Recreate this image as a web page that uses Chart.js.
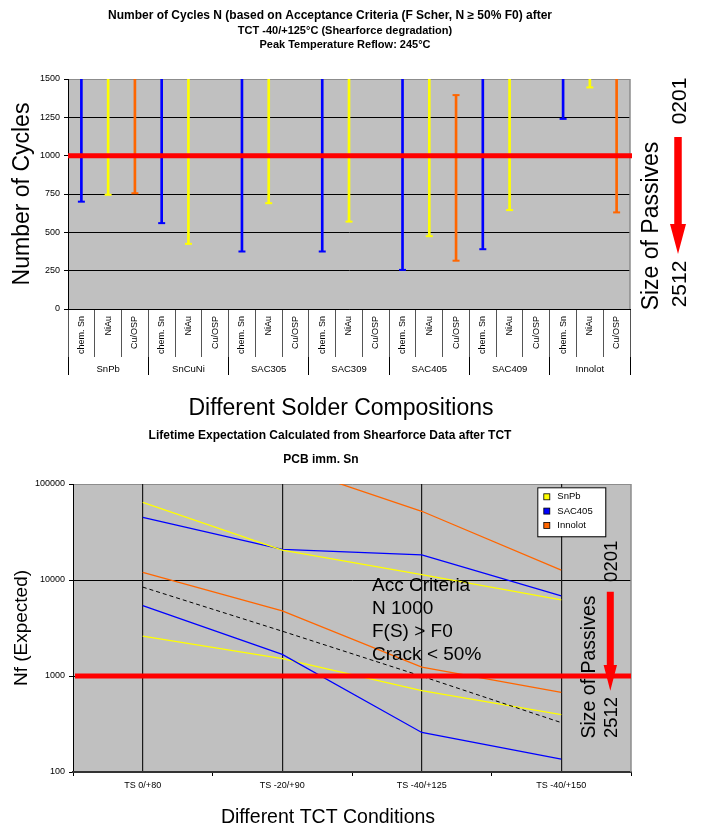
<!DOCTYPE html>
<html>
<head>
<meta charset="utf-8">
<title>Shearforce lifetime</title>
<script src="https://cdn.jsdelivr.net/npm/chart.js@4/dist/chart.umd.min.js"></script>
<style>
  html, body { margin: 0; padding: 0; background: #fff; }
  #wrap { position: relative; width: 703px; height: 831px; }
  #cyclesChart { position: absolute; left: 0; top: 0; }
  #lifeChart { position: absolute; left: 0; top: 428px; }
</style>
</head>
<body>
<div id="wrap">
  <canvas id="cyclesChart" width="703" height="428"></canvas>
  <canvas id="lifeChart" width="703" height="403"></canvas>
</div>
<script>
// --- cycles to acceptance limit, TCT -40/+125 ---
const alloys = ['SnPb', 'SnCuNi', 'SAC305', 'SAC309', 'SAC405', 'SAC409', 'Innolot'];
const finishes = ['chem. Sn', 'NiAu', 'Cu/OSP'];
const finishColors = ['#0000ff', '#ffff00', '#ff6600'];
// lower end of each range, alloy by alloy (null = no data)
const cyclesLow = [700, 745, 755, 560, 425, null, 375, 690, null, 375, 570, null, 255, 475, 315, 390, 645, null, 1240, 1445, 630];
// upper end, 1500 = runs past the top of the axis
const cyclesHigh = [1500, 1500, 1500, 1500, 1500, null, 1500, 1500, null, 1500, 1500, null, 1500, 1500, 1395, 1500, 1500, null, 1500, 1500, 1500];
const cyclesTicks = [0, 250, 500, 750, 1000, 1250, 1500];
const acceptLimit = 1000;

// --- lifetime expectation from shearforce data ---
const tctConditions = ['TS 0/+80', 'TS -20/+90', 'TS -40/+125', 'TS -40/+150'];
const snpbHigh = [64400, 20500, 11400, 6200];
const snpbLow = [2600, 1520, 705, 395];
const sac405High = [45000, 20800, 18300, 6850];
const sac405Low = [5400, 1680, 258, 136];
const innolotHigh = [null, 160000, 52000, 12700];
const innolotLow = [12000, 4770, 1235, 675];
const accCriteria = [8430, 2930, 995, 327];
const nfTicks = [100, 1000, 10000, 100000];
const nfLimit = 1000;

const FONT = "'Liberation Sans', Arial, Helvetica, sans-serif";
Chart.defaults.font.family = FONT;
Chart.defaults.color = '#000';

// grey plot area with a thin border on the open right side
const plotBackground = {
  id: 'plotBackground',
  beforeDraw(chart) {
    const { ctx, chartArea: a } = chart;
    ctx.save();
    ctx.fillStyle = '#c0c0c0';
    ctx.fillRect(a.left, a.top, a.right - a.left, a.bottom - a.top);
    ctx.restore();
  },
  beforeDatasetsDraw(chart) {
    const { ctx, chartArea: a } = chart;
    ctx.save();
    ctx.strokeStyle = '#8c8c8c';
    ctx.lineWidth = 1.5;
    ctx.beginPath();
    ctx.moveTo(a.right, a.top);
    ctx.lineTo(a.right, a.bottom);
    ctx.stroke();
    ctx.restore();
  }
};

// thick red acceptance line
const limitLine = {
  id: 'limitLine',
  afterDatasetsDraw(chart, args, opts) {
    const { ctx, chartArea: a } = chart;
    const y = chart.scales.y.getPixelForValue(opts.value);
    ctx.save();
    ctx.strokeStyle = '#ff0000';
    ctx.lineWidth = opts.width;
    ctx.beginPath();
    ctx.moveTo(a.left + opts.inset, y);
    ctx.lineTo(a.right + opts.overhang, y);
    ctx.stroke();
    ctx.restore();
  }
};

// free text and the "size of passives" arrow
const captions = {
  id: 'captions',
  afterDraw(chart, args, opts) {
    const ctx = chart.ctx;
    ctx.save();
    (opts.items || []).forEach(it => {
      ctx.save();
      ctx.translate(it.x, it.y);
      if (it.rotate) ctx.rotate(-Math.PI / 2);
      ctx.font = it.font;
      ctx.fillStyle = '#000';
      ctx.textAlign = it.align || 'center';
      ctx.textBaseline = 'middle';
      ctx.fillText(it.text, 0, 0);
      ctx.restore();
    });
    (opts.arrows || []).forEach(ar => {
      ctx.fillStyle = '#ff0000';
      ctx.beginPath();
      ctx.moveTo(ar.x - ar.shaft, ar.top);
      ctx.lineTo(ar.x + ar.shaft, ar.top);
      ctx.lineTo(ar.x + ar.shaft, ar.head);
      ctx.lineTo(ar.x + ar.half, ar.head);
      ctx.lineTo(ar.x, ar.tip);
      ctx.lineTo(ar.x - ar.half, ar.head);
      ctx.lineTo(ar.x - ar.shaft, ar.head);
      ctx.closePath();
      ctx.fill();
    });
    ctx.restore();
  }
};

// boxed legend in the upper right of the plot, one entry per alloy
const boxLegend = {
  id: 'boxLegend',
  afterDatasetsDraw(chart, args, opts) {
    const { ctx, chartArea: a } = chart;
    const entries = [];
    chart.data.datasets.forEach(ds => {
      if (ds.inLegend !== false && !entries.some(e => e.label === ds.label)) entries.push(ds);
    });
    const x = a.right - opts.right - opts.width;
    const y = a.top + opts.top;
    ctx.save();
    ctx.fillStyle = '#fff';
    ctx.fillRect(x, y, opts.width, opts.height);
    ctx.strokeStyle = '#000';
    ctx.lineWidth = 1;
    ctx.strokeRect(x + 0.5, y + 0.5, opts.width, opts.height);
    ctx.font = '9.5px ' + FONT;
    ctx.textBaseline = 'middle';
    entries.forEach((ds, i) => {
      const cy = y + 9.5 + i * 14.3;
      ctx.fillStyle = ds.borderColor;
      ctx.fillRect(x + 6.5, cy - 3, 6, 6);
      ctx.strokeStyle = '#000';
      ctx.lineWidth = 0.8;
      ctx.strokeRect(x + 6.5, cy - 3, 6, 6);
      ctx.fillStyle = '#000';
      ctx.fillText(ds.label, x + 20, cy);
    });
    ctx.restore();
  }
};

// ---------- chart 1: number of cycles per alloy and finish ----------
const finishLabels = alloys.flatMap(() => finishes);
const barColors = finishLabels.map((_, i) => finishColors[i % finishes.length]);
const cyclesMax = cyclesTicks[cyclesTicks.length - 1];
const ranges = cyclesLow.map((lo, i) => (lo === null ? null : [lo, cyclesHigh[i]]));
const highCaps = cyclesHigh.map(v => (v !== null && v < cyclesMax ? v : null));

const capStyle = {
  type: 'line',
  showLine: false,
  pointStyle: 'line',
  pointRadius: 3.5,
  pointBorderWidth: 2,
  pointBorderColor: barColors,
  order: 1
};

new Chart(document.getElementById('cyclesChart'), {
  type: 'bar',
  data: {
    labels: finishLabels,
    datasets: [
      { type: 'bar', data: ranges, backgroundColor: barColors, barThickness: 2, order: 2 },
      Object.assign({ data: cyclesLow }, capStyle),
      Object.assign({ data: highCaps }, capStyle)
    ]
  },
  options: {
    responsive: false,
    animation: false,
    events: [],
    layout: { padding: { top: 79, right: 73, left: 0, bottom: 0 } },
    plugins: {
      legend: { display: false },
      tooltip: { enabled: false },
      limitLine: { value: acceptLimit, width: 5, inset: 0, overhang: 2 },
      captions: {
        items: [
          { text: 'Number of Cycles N (based on Acceptance Criteria (F Scher, N \u2265 50% F0) after', x: 330, y: 16, font: 'bold 12px ' + FONT },
          { text: 'TCT -40/+125\u00b0C (Shearforce degradation)', x: 345, y: 30.5, font: 'bold 11px ' + FONT },
          { text: 'Peak Temperature Reflow: 245\u00b0C', x: 345, y: 45, font: 'bold 11px ' + FONT },
          { text: 'Different Solder Compositions', x: 341, y: 409, font: '23px ' + FONT },
          { text: '0201', x: 680, y: 101, font: '21px ' + FONT, rotate: true },
          { text: 'Size of Passives', x: 652, y: 226, font: '23px ' + FONT, rotate: true },
          { text: '2512', x: 680, y: 284, font: '21px ' + FONT, rotate: true }
        ],
        arrows: [{ x: 678, top: 137, head: 224, tip: 254, shaft: 3.75, half: 8 }]
      }
    },
    scales: {
      y: {
        min: 0,
        max: cyclesMax,
        afterBuildTicks: s => { s.ticks = cyclesTicks.map(v => ({ value: v })); },
        afterFit: s => { s.width = 68; },
        ticks: { font: { size: 9 }, padding: 4, callback: v => String(v) },
        grid: {
          color: c => (c.tick && c.tick.value === cyclesMax ? '#8c8c8c' : '#000'),
          tickColor: '#000',
          tickLength: 4
        },
        border: { color: '#000' },
        title: { display: true, text: 'Number of Cycles', font: { size: 23 }, padding: { top: 9, bottom: 0 } }
      },
      x: {
        offset: true,
        weight: 0,
        grid: { offset: true, drawOnChartArea: false, tickLength: 48, color: '#555' },
        border: { color: '#000' },
        ticks: { minRotation: 90, maxRotation: 90, autoSkip: false, padding: -41, font: { size: 9 } },
        afterFit: s => { s.height = 48; }
      },
      x2: {
        type: 'category',
        position: 'bottom',
        labels: alloys,
        offset: true,
        weight: 1,
        grid: { offset: true, drawOnChartArea: false, tickLength: 18, color: '#000' },
        border: { display: false },
        ticks: { padding: -11, font: { size: 9.5 } },
        afterFit: s => { s.height = 71; }
      }
    }
  },
  plugins: [plotBackground, limitLine, captions]
});

// ---------- chart 2: expected lifetime per TCT condition ----------
function series(label, values, color) {
  return { label, data: values, borderColor: color, backgroundColor: color, borderWidth: 1.3, pointRadius: 0, tension: 0 };
}

new Chart(document.getElementById('lifeChart'), {
  type: 'line',
  data: {
    labels: tctConditions,
    datasets: [
      series('SnPb', snpbHigh, '#ffff00'),
      series('SAC405', sac405High, '#0000ff'),
      series('Innolot', innolotHigh, '#ff6600'),
      series('Innolot', innolotLow, '#ff6600'),
      { label: 'Acc Criteria', data: accCriteria, borderColor: '#000', borderDash: [4, 3], borderWidth: 1, pointRadius: 0, inLegend: false },
      series('SAC405', sac405Low, '#0000ff'),
      series('SnPb', snpbLow, '#ffff00')
    ]
  },
  options: {
    responsive: false,
    animation: false,
    events: [],
    layout: { padding: { top: 56, right: 72, left: 0, bottom: 0 } },
    plugins: {
      legend: { display: false },
      tooltip: { enabled: false },
      limitLine: { value: nfLimit, width: 5, inset: 2, overhang: 0 },
      boxLegend: { right: 25.7, top: 3.3, width: 68, height: 49 },
      captions: {
        items: [
          { text: 'Lifetime Expectation Calculated from Shearforce Data after TCT', x: 330, y: 7.5, font: 'bold 12px ' + FONT },
          { text: 'PCB imm. Sn', x: 321, y: 32, font: 'bold 12px ' + FONT },
          { text: 'Different TCT Conditions', x: 328, y: 390, font: '19.5px ' + FONT },
          { text: 'Acc Criteria', x: 372, y: 158, font: '19px ' + FONT, align: 'left' },
          { text: 'N 1000', x: 372, y: 181, font: '19px ' + FONT, align: 'left' },
          { text: 'F(S) > F0', x: 372, y: 204, font: '19px ' + FONT, align: 'left' },
          { text: 'Crack < 50%', x: 372, y: 227, font: '19px ' + FONT, align: 'left' },
          { text: '0201', x: 611.7, y: 133.3, font: '18.5px ' + FONT, rotate: true },
          { text: 'Size of Passives', x: 589.3, y: 239, font: '19.5px ' + FONT, rotate: true },
          { text: '2512', x: 611.7, y: 289.5, font: '18.5px ' + FONT, rotate: true }
        ],
        arrows: [{ x: 610.3, top: 163.7, head: 237, tip: 262.7, shaft: 3.5, half: 6.7 }]
      }
    },
    scales: {
      y: {
        type: 'logarithmic',
        min: nfTicks[0],
        max: nfTicks[nfTicks.length - 1],
        afterBuildTicks: s => { s.ticks = nfTicks.map(v => ({ value: v })); },
        afterFit: s => { s.width = 73; },
        ticks: { font: { size: 9 }, padding: 4, callback: v => String(v) },
        grid: {
          color: c => (c.tick && c.tick.value === nfTicks[nfTicks.length - 1] ? '#8c8c8c' : '#000'),
          tickColor: '#000',
          tickLength: 4
        },
        border: { color: '#000' },
        title: { display: true, text: 'Nf (Expected)', font: { size: 19 }, padding: { top: 10.5, bottom: 0 } }
      },
      x: {
        offset: true,
        weight: 0,
        grid: { offset: true, drawOnChartArea: false, tickLength: 4, color: '#000' },
        border: { color: '#333', width: 2 },
        ticks: { font: { size: 9 }, padding: 4 },
        afterFit: s => { s.height = 59; }
      },
      xc: {
        type: 'category',
        position: 'bottom',
        labels: tctConditions,
        offset: true,
        weight: 1,
        grid: { offset: false, drawTicks: false, color: '#1a1a1a', lineWidth: 1.2 },
        border: { display: false },
        ticks: { display: false },
        afterFit: s => { s.height = 0; }
      }
    }
  },
  plugins: [plotBackground, limitLine, boxLegend, captions]
});
</script>
</body>
</html>
